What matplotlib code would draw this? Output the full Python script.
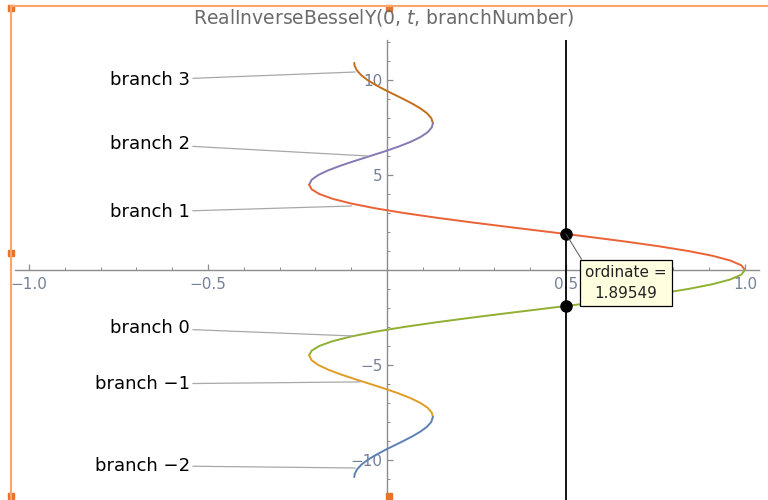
import matplotlib
matplotlib.use('Agg')
import matplotlib.pyplot as plt
from matplotlib.lines import Line2D
from matplotlib.patches import Rectangle
from matplotlib.ticker import FixedLocator

# curve values: t (vertical) and ordinate (horizontal)
branch3_t = [7.725, 8.0, 8.25, 8.5, 8.75, 9.0, 9.25, 9.5, 9.75, 10.0, 10.25, 10.5, 10.75, 10.9]
branch3_x = [0.1284, 0.1237, 0.1118, 0.0939, 0.0714, 0.0458, 0.0188, -0.0079, -0.0328,
             -0.0544, -0.0717, -0.0838, -0.0903, -0.0913]
branch2_t = [4.49, 4.75, 5.0, 5.25, 5.5, 5.75, 6.0, 6.25, 6.5, 6.75, 7.0, 7.25, 7.5, 7.725]
branch2_x = [-0.2173, -0.2104, -0.1918, -0.1636, -0.1283, -0.0884, -0.0466, -0.0053, 0.0331,
             0.0667, 0.0939, 0.1135, 0.1251, 0.1284]
branch1_t = [0.0, 0.25, 0.5, 0.75, 1.0, 1.25, 1.5, 1.75, 2.0, 2.25, 2.5, 2.75, 3.0, 3.25,
             3.5, 3.75, 4.0, 4.25, 4.49]
branch1_x = [1.0, 0.9896, 0.9589, 0.9089, 0.8415, 0.7592, 0.6650, 0.5623, 0.4546, 0.3458,
             0.2394, 0.1388, 0.0470, -0.0333, -0.1002, -0.1524, -0.1892, -0.2106, -0.2173]
branch0_t = [0.0, -0.25, -0.5, -0.75, -1.0, -1.25, -1.5, -1.75, -2.0, -2.25, -2.5, -2.75, -3.0,
             -3.25, -3.5, -3.75, -4.0, -4.25, -4.49]
branch0_x = [1.0, 0.9896, 0.9589, 0.9089, 0.8415, 0.7592, 0.6650, 0.5623, 0.4546, 0.3458,
             0.2394, 0.1388, 0.0470, -0.0333, -0.1002, -0.1524, -0.1892, -0.2106, -0.2173]
branchm1_t = [-4.49, -4.75, -5.0, -5.25, -5.5, -5.75, -6.0, -6.25, -6.5, -6.75, -7.0, -7.25,
              -7.5, -7.725]
branchm1_x = [-0.2173, -0.2104, -0.1918, -0.1636, -0.1283, -0.0884, -0.0466, -0.0053, 0.0331,
              0.0667, 0.0939, 0.1135, 0.1251, 0.1284]
branchm2_t = [-7.725, -8.0, -8.25, -8.5, -8.75, -9.0, -9.25, -9.5, -9.75, -10.0, -10.25, -10.5,
              -10.75, -10.9]
branchm2_x = [0.1284, 0.1237, 0.1118, 0.0939, 0.0714, 0.0458, 0.0188, -0.0079, -0.0328,
              -0.0544, -0.0717, -0.0838, -0.0903, -0.0913]

branch_names = ['branch 3', 'branch 2', 'branch 1', 'branch 0', 'branch \u22121', 'branch \u22122']
branch_colors = ['#C56E1A', '#8778B3', '#EB6235', '#8FB032', '#E19C24', '#5E81B5']
label_t = [10.0, 6.63, 3.05, -3.05, -6.0, -10.3]
callout_x = [-0.089, -0.053, -0.098, -0.098, -0.075, -0.089]
callout_t = [10.42, 6.0, 3.37, -3.47, -5.89, -10.42]

marker_x = 0.5
ordinate = 1.89549
marker_t = [1.89549, -1.89549]

xtick_major = [-1.0, -0.5, 0.5, 1.0]
xtick_labels = ['\u22121.0', '\u22120.5', '0.5', '1.0']
ytick_major = [-10, -5, 5, 10]
ytick_labels = ['\u221210', '\u22125', '5', '10']

fig = plt.figure(figsize=(7.68, 5.0), dpi=100)
ax = fig.add_axes([0.0191, 0.0002, 0.9695, 0.9196])
ax.set_xlim(-1.04, 1.04)
ax.set_ylim(-12.1, 12.1)

series = [(branch3_x, branch3_t), (branch2_x, branch2_t), (branch1_x, branch1_t),
          (branch0_x, branch0_t), (branchm1_x, branchm1_t), (branchm2_x, branchm2_t)]
for (xs, ts), col in zip(series, branch_colors):
    ax.plot(xs, ts, color=col, lw=1.4, solid_capstyle='round', zorder=3)

# callout labels
for name, ly, cx, ct in zip(branch_names, label_t, callout_x, callout_t):
    ax.annotate(name, xy=(cx, ct), xytext=(-0.55, ly), ha='right', va='center',
                fontsize=13, color='black',
                arrowprops=dict(arrowstyle='-', color='#A8A8A8', lw=0.9,
                                shrinkA=0, shrinkB=0))

# vertical marker line and points
ax.axvline(marker_x, color='black', lw=1.3, zorder=4)
ax.plot([marker_x] * len(marker_t), marker_t, 'o', color='black', ms=8, zorder=6)

ax.annotate('ordinate =\n1.89549', xy=(marker_x, ordinate), xytext=(60, -49),
            textcoords='offset pixels', ha='center', va='center', multialignment='center',
            fontsize=11, color='#222222', linespacing=1.5,
            bbox=dict(boxstyle='square,pad=0.35', fc='#FFFFE0', ec='black', lw=0.9),
            arrowprops=dict(arrowstyle='-', color='#555555', lw=0.7, relpos=(0, 1),
                            shrinkA=0, shrinkB=0),
            zorder=7)

# Mathematica-style axes through the origin
for side in ['top', 'right']:
    ax.spines[side].set_visible(False)
ax.spines['left'].set_position(('data', 0))
ax.spines['bottom'].set_position(('data', 0))
for side in ['left', 'bottom']:
    ax.spines[side].set_color('#8C8C8C')
    ax.spines[side].set_linewidth(1.0)
ax.set_facecolor('none')

ax.xaxis.set_major_locator(FixedLocator(xtick_major))
ax.xaxis.set_minor_locator(FixedLocator([i / 10 for i in range(-10, 11)]))
ax.set_xticklabels(xtick_labels)
ax.yaxis.set_major_locator(FixedLocator(ytick_major))
ax.yaxis.set_minor_locator(FixedLocator(list(range(-12, 13))))
ax.set_yticklabels(ytick_labels)
ax.tick_params(which='major', direction='in', length=4.5, width=0.9, color='#8C8C8C',
               labelsize=11, labelcolor='#74819A')
ax.tick_params(which='minor', direction='in', length=2.5, width=0.7, color='#8C8C8C')
ax.tick_params(axis='x', pad=5)
ax.tick_params(axis='y', pad=3)

fig.text(0.5, 0.966, 'RealInverseBesselY(0, $t$, branchNumber)', ha='center', va='center',
         fontsize=13.5, color='#6B6B6B')

# orange selection frame
frame_col = '#FFA46B'
fig.add_artist(Line2D([0.0143, 1.0], [0.988, 0.988], color=frame_col, lw=1.5,
                      transform=fig.transFigure))
fig.add_artist(Line2D([0.0143, 0.0143], [0.988, 0.0], color=frame_col, lw=1.5,
                      transform=fig.transFigure))
for hx, hy in [(11, 8), (389, 8), (11, 253), (11, 496), (389, 496)]:
    fig.add_artist(Rectangle(((hx - 3) / 768, 1 - (hy + 3) / 500), 6 / 768, 6 / 500,
                             color='#E8742A', transform=fig.transFigure))

fig.savefig('out.png', dpi=100)
